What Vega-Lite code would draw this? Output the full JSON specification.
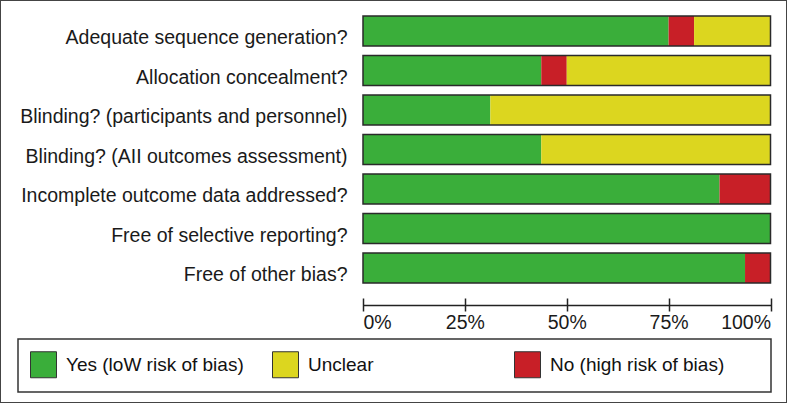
{
  "$schema": "https://vega.github.io/schema/vega-lite/v6.json",
  "width": 787,
  "height": 403,
  "autosize": "none",
  "padding": 0,
  "background": "white",
  "config": {
    "view": {"stroke": "#444", "strokeWidth": 2},
    "font": "Liberation Sans",
    "legend": {"strokeColor": "#333", "strokeWidth": 1.5, "fillColor": "white"}
  },
  "data": {
    "values": [
      {"item": "Adequate sequence generation?", "status": "Yes (loW risk of bias)", "pct": 75, "ord": 1},
      {"item": "Adequate sequence generation?", "status": "No (high risk of bias)", "pct": 6.25, "ord": 2},
      {"item": "Adequate sequence generation?", "status": "Unclear", "pct": 18.75, "ord": 3},
      {"item": "Allocation concealment?", "status": "Yes (loW risk of bias)", "pct": 43.75, "ord": 1},
      {"item": "Allocation concealment?", "status": "No (high risk of bias)", "pct": 6.25, "ord": 2},
      {"item": "Allocation concealment?", "status": "Unclear", "pct": 50, "ord": 3},
      {"item": "Blinding? (participants and personnel)", "status": "Yes (loW risk of bias)", "pct": 31.25, "ord": 1},
      {"item": "Blinding? (participants and personnel)", "status": "Unclear", "pct": 68.75, "ord": 3},
      {"item": "Blinding? (AII outcomes assessment)", "status": "Yes (loW risk of bias)", "pct": 43.75, "ord": 1},
      {"item": "Blinding? (AII outcomes assessment)", "status": "Unclear", "pct": 56.25, "ord": 3},
      {"item": "Incomplete outcome data addressed?", "status": "Yes (loW risk of bias)", "pct": 87.5, "ord": 1},
      {"item": "Incomplete outcome data addressed?", "status": "No (high risk of bias)", "pct": 12.5, "ord": 2},
      {"item": "Free of selective reporting?", "status": "Yes (loW risk of bias)", "pct": 100, "ord": 1},
      {"item": "Free of other bias?", "status": "Yes (loW risk of bias)", "pct": 93.75, "ord": 1},
      {"item": "Free of other bias?", "status": "No (high risk of bias)", "pct": 6.25, "ord": 2}
    ]
  },
  "encoding": {
    "y": {
      "field": "item",
      "type": "nominal",
      "title": null,
      "sort": [
        "Adequate sequence generation?",
        "Allocation concealment?",
        "Blinding? (participants and personnel)",
        "Blinding? (AII outcomes assessment)",
        "Incomplete outcome data addressed?",
        "Free of selective reporting?",
        "Free of other bias?"
      ],
      "scale": {"range": [11.25, 287.75], "paddingInner": 0.24, "paddingOuter": 0.12},
      "axis": {
        "orient": "left",
        "offset": -347,
        "domain": false,
        "ticks": false,
        "grid": false,
        "labelPadding": 0,
        "labelOffset": 7,
        "labelFontSize": 19.5,
        "labelColor": "#1a1a1a",
        "labelFont": "Liberation Sans",
        "labelLimit": 400
      }
    }
  },
  "layer": [
    {
      "mark": {"type": "bar"},
      "encoding": {
        "x": {
          "field": "pct",
          "type": "quantitative",
          "stack": "zero",
          "scale": {"domain": [0, 100], "range": [363, 770.5], "nice": false, "zero": false},
          "axis": {
            "orient": "bottom",
            "offset": -105,
            "title": null,
            "values": [0, 25, 50, 75, 100],
            "labelExpr": "datum.value + '%'",
            "domain": false,
            "grid": false,
            "tickSize": 13,
            "tickWidth": 1.5,
            "tickColor": "#222",
            "labelFlush": true,
            "labelPadding": 2,
            "labelFontSize": 19.5,
            "labelColor": "#1a1a1a",
            "labelFont": "Liberation Sans"
          }
        },
        "color": {
          "field": "status",
          "type": "nominal",
          "scale": {
            "domain": ["Yes (loW risk of bias)", "Unclear", "No (high risk of bias)"],
            "range": ["#3aae3a", "#dcd61f", "#c81f27"]
          },
          "legend": {
            "orient": "none",
            "legendX": 18,
            "legendY": 339,
            "direction": "horizontal",
            "columns": 3,
            "gridAlign": "all",
            "columnPadding": 26,
            "padding": 12,
            "title": "\u00a0",
            "titleOrient": "right",
            "titlePadding": 35,
            "titleFontSize": 10,
            "symbolType": "square",
            "symbolSize": 676,
            "symbolStrokeColor": "#333",
            "symbolStrokeWidth": 1,
            "labelFontSize": 19,
            "labelFont": "Liberation Sans",
            "labelColor": "#111",
            "labelOffset": 9,
            "labelLimit": 300
          }
        },
        "order": {"field": "ord", "type": "quantitative"}
      }
    },
    {
      "mark": {"type": "bar", "fill": "white", "fillOpacity": 0, "stroke": "#2a2a2a", "strokeWidth": 1.5},
      "encoding": {
        "x": {
          "aggregate": "sum",
          "field": "pct",
          "type": "quantitative",
          "scale": {"domain": [0, 100], "range": [363, 770.5], "nice": false, "zero": false},
          "axis": {
            "orient": "bottom",
            "offset": -98,
            "title": null,
            "domain": true,
            "domainColor": "#222",
            "domainWidth": 1.5,
            "ticks": false,
            "labels": false,
            "grid": false
          }
        }
      }
    }
  ],
  "resolve": {"axis": {"x": "independent"}}
}
